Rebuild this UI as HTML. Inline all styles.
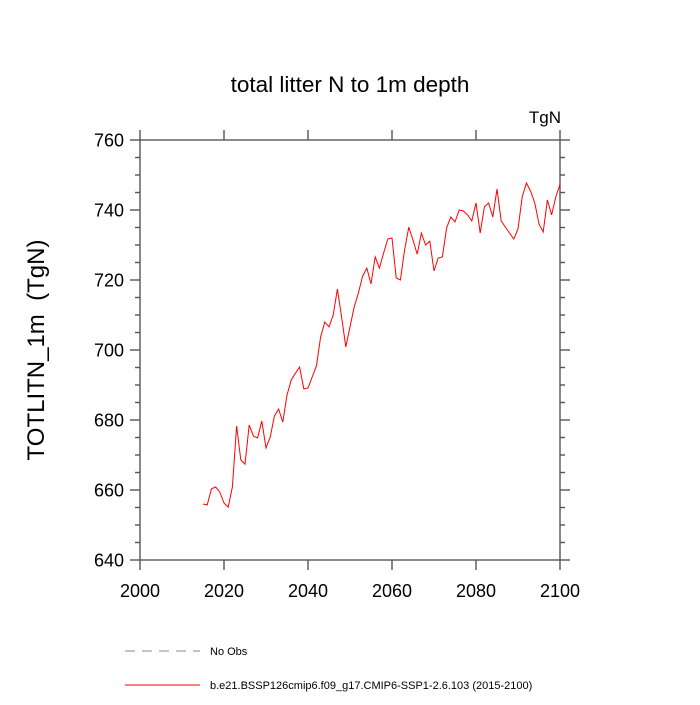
<!DOCTYPE html>
<html><head><meta charset="utf-8"><style>
html,body{margin:0;padding:0;background:#fff;}
svg text{font-family:"Liberation Sans",sans-serif;fill:#000;}
</style></head><body>
<svg id="chart" width="700" height="700" xmlns="http://www.w3.org/2000/svg">
<text x="350" y="92" font-size="22.5" text-anchor="middle">total litter N to 1m depth</text>
<text x="561" y="123" font-size="17" text-anchor="end">TgN</text>
<text transform="translate(44,350) rotate(-90)" font-size="24" text-anchor="middle" style="white-space:pre">TOTLITN_1m  (TgN)</text>
<g id="axes"></g>
<g id="series"></g>
<g>
<line x1="125" y1="651" x2="200" y2="651" stroke="#888" stroke-width="1" stroke-dasharray="10,7"/>
<text x="210" y="655" font-size="11">No Obs</text>
<line x1="125" y1="685" x2="200" y2="685" stroke="#f00" stroke-width="1"/>
<text x="210" y="689" font-size="11">b.e21.BSSP126cmip6.f09_g17.CMIP6-SSP1-2.6.103 (2015-2100)</text>
</g>
</svg>
<script>
const startYear = 2015;
const values = [656.0,655.7,660.3,660.9,659.4,656.3,655.1,660.9,678.3,668.6,667.4,678.6,675.4,674.9,679.7,672.0,675.1,681.1,683.1,679.4,687.1,691.4,693.4,695.1,688.9,689.1,692.3,695.4,703.7,708.0,706.6,710.0,717.4,709.4,700.9,706.6,712.3,716.3,721.1,723.4,718.9,726.6,723.4,727.7,731.7,732.0,720.6,720.0,728.6,735.1,731.4,727.4,733.4,730.0,731.1,722.6,726.3,726.6,734.9,738.0,736.6,740.0,739.7,738.6,736.9,742.0,733.4,740.9,742.0,738.0,746.0,736.9,735.1,733.4,731.7,734.6,743.7,747.7,745.4,742.0,736.0,733.7,742.9,738.6,743.7,747.4];
const xTicks = [2000,2020,2040,2060,2080,2100];
const yTicks = [640,660,680,700,720,740,760];
const NS="http://www.w3.org/2000/svg";
const X0=140,X1=560,Y0=560,Y1=140;
const AX='#555';
const xs=v=>X0+(v-2000)/100*(X1-X0);
const ys=v=>Y0-(v-640)/120*(Y0-Y1);
const axes=document.getElementById('axes');
function mk(tag,attrs,parent){const e=document.createElementNS(NS,tag);for(const k in attrs)e.setAttribute(k,attrs[k]);parent.appendChild(e);return e;}
const frame=mk('rect',{x:X0,y:Y1,width:X1-X0,height:Y0-Y1,fill:'none',stroke:AX,'stroke-width':1.4},axes);


xTicks.forEach(v=>{
  const t1=mk('line',{x1:xs(v),x2:xs(v),y1:Y0,y2:Y0+10,stroke:AX,'stroke-width':1.4},axes);
  
  
  const t2=mk('line',{x1:xs(v),x2:xs(v),y1:Y1,y2:Y1-10,stroke:AX,'stroke-width':1.4},axes);
  
  
  const t=mk('text',{x:xs(v),y:Y0+37,'font-size':18,'text-anchor':'middle'},axes);
  t.textContent=v;
  
  
});
for(let v=640;v<=760;v+=5){
  const major=v%20===0, L=major?10:5;
  const t1=mk('line',{x1:X0,x2:X0-L,y1:ys(v),y2:ys(v),stroke:AX,'stroke-width':1.4},axes);
  
  
  const t2=mk('line',{x1:X1,x2:X1+L,y1:ys(v),y2:ys(v),stroke:AX,'stroke-width':1.4},axes);
  
  
}
yTicks.forEach(v=>{
  const t=mk('text',{x:X0-16,y:ys(v)+6.5,'font-size':18,'text-anchor':'end'},axes);
  t.textContent=v;
  
  
});
const pts=values.map((v,i)=>xs(startYear+i).toFixed(1)+','+ys(v).toFixed(1)).join(' ');
const line=mk('polyline',{points:pts,fill:'none',stroke:'#f00','stroke-width':1},document.getElementById('series'));


</script>
</body></html>
